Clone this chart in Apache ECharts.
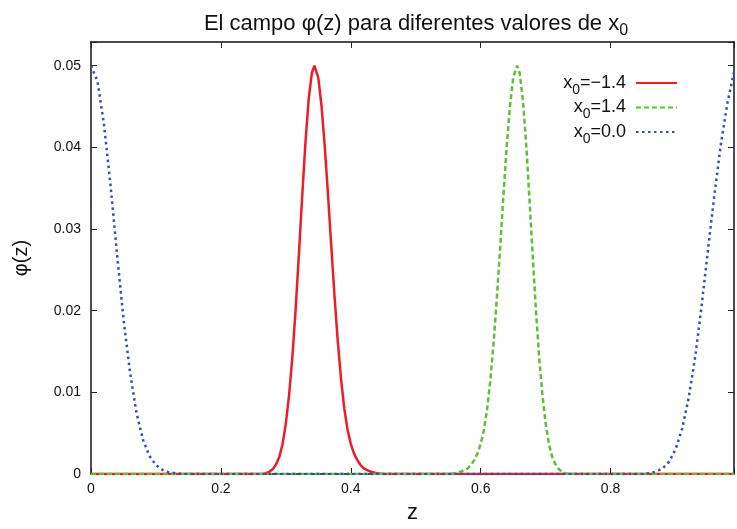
<!DOCTYPE html>
<html>
<head>
<meta charset="utf-8">
<script src="https://cdn.jsdelivr.net/npm/echarts@6/dist/echarts.min.js"></script>
<style>
  html, body { margin: 0; padding: 0; background: #fff; }
  #chart { width: 737px; height: 529px; }
</style>
</head>
<body>
<div id="chart"></div>
<script>
// Field profiles phi(z) for three values of x0
const legendValues = ['−1.4', '1.4', '0.0'];

const zRed = [0, 0.265, 0.27, 0.275, 0.28, 0.285, 0.29, 0.295, 0.30, 0.305, 0.31, 0.315, 0.32, 0.325, 0.33, 0.335, 0.34, 0.344,
  0.35, 0.355, 0.36, 0.365, 0.37, 0.375, 0.38, 0.385, 0.39, 0.395, 0.40, 0.405, 0.41, 0.415, 0.42, 0.43, 0.44, 0.45, 0.99];
const phiRed = [0, 0, 0.0001, 0.0003, 0.0006, 0.0012, 0.0021, 0.0037, 0.0062, 0.0097, 0.0143, 0.0201, 0.0268, 0.0338, 0.0404, 0.0458, 0.0491, 0.0500,
  0.0485, 0.0450, 0.0400, 0.0341, 0.0278, 0.0217, 0.0162, 0.0116, 0.0080, 0.0054, 0.0037, 0.0025, 0.0017, 0.0011, 0.0007, 0.0003, 0.0001, 0, 0];

const zGreen = [0, 0.55, 0.56, 0.57, 0.58, 0.585, 0.59, 0.595, 0.60, 0.605, 0.61, 0.615, 0.62, 0.625, 0.63, 0.635, 0.64, 0.645, 0.65, 0.656,
  0.66, 0.665, 0.67, 0.675, 0.68, 0.685, 0.69, 0.695, 0.70, 0.705, 0.71, 0.715, 0.72, 0.725, 0.73, 0.735, 0.99];
const phiGreen = [0, 0, 0.0001, 0.0003, 0.0007, 0.0011, 0.0017, 0.0025, 0.0037, 0.0054, 0.0080, 0.0116, 0.0162, 0.0217, 0.0278, 0.0341, 0.0400, 0.0450, 0.0485, 0.0500,
  0.0491, 0.0458, 0.0404, 0.0338, 0.0268, 0.0201, 0.0143, 0.0097, 0.0062, 0.0037, 0.0021, 0.0012, 0.0006, 0.0003, 0.0001, 0, 0];

const zBlue = [0, 0.01, 0.02, 0.03, 0.04, 0.05, 0.06, 0.07, 0.08, 0.09, 0.10, 0.11, 0.12, 0.13, 0.14,
  0.85, 0.86, 0.87, 0.88, 0.89, 0.90, 0.91, 0.92, 0.93, 0.94, 0.95, 0.96, 0.97, 0.98, 0.99];
const phiBlue = [0.0500, 0.0481, 0.0428, 0.0354, 0.0270, 0.0190, 0.0125, 0.0075, 0.0042, 0.0022, 0.0011, 0.0005, 0.0002, 0.0001, 0,
  0, 0.0001, 0.0003, 0.0007, 0.0015, 0.0030, 0.0055, 0.0092, 0.0142, 0.0205, 0.0275, 0.0343, 0.0405, 0.0455, 0.0492];

const xTicks = [0, 0.2, 0.4, 0.6, 0.8];
const yTicks = [0, 0.01, 0.02, 0.03, 0.04, 0.05];

const FONT = '"Liberation Sans", Arial, sans-serif';
const names = legendValues.map(v => 'x0=' + v);
const colors = ['#ee1c25', '#5fbd3a', '#3152a8'];
const lineTypes = ['solid', [5, 3], [2.5, 3.5]];

function pairs(xs, ys) { return xs.map((x, i) => [x, ys[i]]); }
const seriesData = [pairs(zRed, phiRed), pairs(zGreen, phiGreen), pairs(zBlue, phiBlue)];

function near(list, v) { return list.some(t => Math.abs(t - v) < 1e-9); }

const tickStyle = { show: true, inside: true, length: 6, lineStyle: { color: '#222', width: 1 } };
const lineStyleAxis = { show: true, onZero: false, lineStyle: { color: '#111', width: 1.5 } };

const chart = echarts.init(document.getElementById('chart'));
chart.setOption({
  animation: false,
  backgroundColor: '#fff',
  title: {
    text: '{t|El campo φ(z) para diferentes valores de x}{s|0}',
    left: 411, top: 4, textAlign: 'center',
    textStyle: {
      fontWeight: 'normal',
      rich: {
        t: { fontFamily: FONT, fontSize: 22, fontWeight: 'normal', color: '#111', lineHeight: 30 },
        s: { fontFamily: FONT, fontSize: 16, fontWeight: 'normal', color: '#111', lineHeight: 10, verticalAlign: 'bottom' }
      }
    }
  },
  grid: { left: 91, top: 42, right: 3, bottom: 49, containLabel: false },
  legend: names.map((n, i) => ({
    data: [n], right: 59, top: 74 + i * 24.5, orient: 'vertical', align: 'right',
    itemWidth: 41, itemHeight: 14, itemGap: 0, padding: 0,
    itemStyle: { opacity: 0 },
    formatter: name => '{v|x}{s|0}{e|=' + name.split('=')[1] + '}',
    textStyle: {
      rich: {
        v: { fontFamily: FONT, fontSize: 18, color: '#111', lineHeight: 28 },
        e: { fontFamily: FONT, fontSize: 18, color: '#111', lineHeight: 28, padding: [0, 5, 0, 0] },
        s: { fontFamily: FONT, fontSize: 14, color: '#111', lineHeight: 8, verticalAlign: 'bottom' }
      }
    }
  })),
  xAxis: [{
    type: 'value', min: 0, max: 0.99, interval: 0.2, position: 'bottom',
    axisLine: lineStyleAxis, axisTick: tickStyle, splitLine: { show: false },
    axisLabel: {
      margin: 8, fontFamily: FONT, fontSize: 14, color: '#111',
      formatter: v => near(xTicks, v) ? String(Math.round(v * 10) / 10) : ''
    },
    name: 'z', nameLocation: 'middle', nameGap: 28,
    nameTextStyle: { fontFamily: FONT, fontSize: 22, color: '#111' }
  }, {
    type: 'value', min: 0, max: 0.99, interval: 0.2, position: 'top',
    axisLine: lineStyleAxis, axisTick: tickStyle, splitLine: { show: false }, axisLabel: { show: false }
  }],
  yAxis: [{
    type: 'value', min: 0, max: 0.0529, interval: 0.01, position: 'left',
    axisLine: lineStyleAxis, axisTick: tickStyle, splitLine: { show: false },
    axisLabel: {
      margin: 10, fontFamily: FONT, fontSize: 14, color: '#111',
      formatter: v => near(yTicks, v) ? String(Math.round(v * 100) / 100) : ''
    },
    name: 'φ(z)', nameLocation: 'middle', nameGap: 60, nameRotate: 90,
    nameTextStyle: { fontFamily: FONT, fontSize: 20, color: '#111' }
  }, {
    type: 'value', min: 0, max: 0.0529, interval: 0.01, position: 'right',
    axisLine: lineStyleAxis, axisTick: tickStyle, splitLine: { show: false }, axisLabel: { show: false }
  }],
  series: names.map((n, i) => ({
    name: n, type: 'line', xAxisIndex: 0, yAxisIndex: 0,
    data: seriesData[i], showSymbol: false, symbol: 'none', smooth: false,
    lineStyle: { color: colors[i], width: 2.5, type: lineTypes[i], cap: 'butt' },
    itemStyle: { color: colors[i] },
    z: 3 + i
  }))
});
</script>
</body>
</html>
